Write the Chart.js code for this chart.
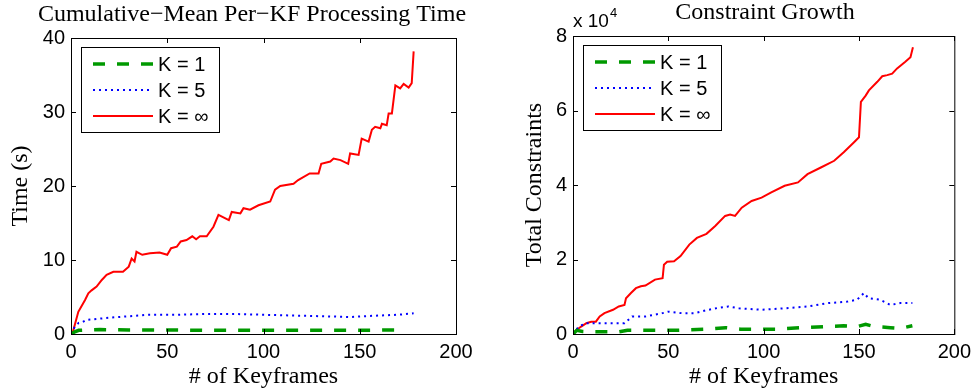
<!DOCTYPE html>
<html>
<head>
<meta charset="utf-8">
<script src="https://cdn.jsdelivr.net/npm/chart.js@4.4.1/dist/chart.umd.min.js"></script>
<style>
  html, body { margin: 0; padding: 0; background: #fff; }
  #wrap { position: relative; width: 977px; height: 391px; }
  .box { position: absolute; top: 0; height: 391px; }
  #leftBox { left: 0; width: 488px; }
  #rightBox { left: 488px; width: 489px; }
</style>
</head>
<body>
<div id="wrap">
  <div class="box" id="leftBox"><canvas id="timeChart"></canvas></div>
  <div class="box" id="rightBox"><canvas id="constraintChart"></canvas></div>
</div>
<script>
// legend labels
const seriesLabels = ['K = 1', 'K = 5', 'K = \u221e'];

// x ticks shared by both plots
const xTicks = [0, 50, 100, 150, 200];

// left plot: per-KF processing time (s)
const timeK1X = [0, 2, 4, 8, 15, 30, 50, 70, 90, 110, 130, 150, 165, 172];
const timeK1Y = [0, 0.3, 0.5, 0.55, 0.6, 0.55, 0.55, 0.5, 0.5, 0.5, 0.5, 0.5, 0.55, 0.55];

const timeK5X = [0, 2, 4, 6, 8, 12, 20, 30, 40, 55, 70, 85, 100, 115, 130, 145, 160, 170, 178];
const timeK5Y = [0, 1, 1.5, 1.6, 1.9, 2.0, 2.2, 2.4, 2.6, 2.6, 2.7, 2.7, 2.6, 2.5, 2.4, 2.3, 2.5, 2.6, 2.8];

const timeKinfX = [0, 1, 3.8, 7.3, 9, 10.7, 13.3, 16, 18.5, 22, 27, 30, 31.5, 33, 34, 37, 41, 46, 50,
  52, 55, 57, 60, 63, 65, 67, 70.5, 74, 76.6, 82, 83.5, 88, 89.6, 93, 97.4, 103.5, 106, 108.7,
  115.6, 118, 124, 128.6, 130, 134.7, 136.4, 140, 144, 145, 149.4, 151, 154.6, 156.3, 158, 160.7,
  161.5, 164, 165, 166.7, 168.5, 171, 172.8, 175.4, 177, 178];
const timeKinfY = [0, 0.3, 3, 4.6, 5.5, 5.9, 6.4, 7.3, 8, 8.4, 8.4, 9.1, 10.2, 9.8, 11.1, 10.7, 10.9, 11, 10.7,
  11.6, 11.8, 12.5, 12.7, 13.2, 12.8, 13.2, 13.2, 14.5, 16.1, 15.4, 16.5, 16.3, 17, 16.8, 17.4, 17.9, 19.5, 20,
  20.3, 20.8, 21.7, 21.7, 23, 23.3, 23.7, 23.5, 23, 24.4, 24.2, 26.4, 26, 27.6, 28, 27.8,
  28.4, 28.2, 29.8, 29.8, 33.6, 33.2, 33.8, 33.3, 33.9, 38.2];

// right plot: total constraints
const consK1X = [0, 2, 5, 10, 24, 28.6, 40, 54, 71, 80, 88, 106, 120, 132, 142, 149, 153.5, 158, 166.5, 171.7, 178];
const consK1Y = [0, 1000, 700, 600, 600, 1000, 1000, 1000, 1300, 1700, 1300, 1300, 1700, 2000, 2200, 2000, 2600, 2000, 1700, 1500, 2200];

const consK5X = [0, 3, 7, 19, 27, 31, 38, 47, 50, 57, 64, 71, 76, 81.5, 87, 99, 111, 123, 134, 144, 149, 152.6, 155, 161, 166.5, 171.7, 178];
const consK5Y = [0, 2000, 2900, 2900, 2900, 4700, 4700, 5600, 6000, 5600, 5600, 6500, 7000, 7400, 6900, 6500, 6900, 7400, 8300, 8700, 9200, 11000, 9600, 9200, 7800, 8300, 8300];

const consKinfX = [0, 1.7, 4.3, 7, 9.5, 12, 14, 16.5, 21, 24, 27, 27.8, 30.4, 33, 35.6, 38, 43, 47, 47.7, 49.4,
  53, 56.4, 61, 65, 70, 74.6, 79.8, 82.4, 85, 88.5, 93.7, 98.9, 104, 111, 118, 123, 130, 137, 142,
  147.4, 150, 151, 153.5, 155.2, 159.6, 162.2, 164.8, 167.4, 170, 174.3, 177, 178.3];
const consKinfY = [0, 1000, 2000, 2900, 3300, 3300, 4700, 5600, 6500, 7400, 7800, 9600, 11000, 12300, 12800, 13000, 14600, 15000, 18600, 19400,
  19500, 20900, 24000, 25800, 26900, 29000, 31700, 32100, 31700, 33900, 35700, 36600, 38000, 39800, 40700, 42900, 44700, 46500, 48800,
  51500, 52800, 62300, 64000, 65400, 67700, 69200, 69500, 69900, 71300, 73100, 74300, 77000];

const colK1 = '#009900';
const colK5 = '#0000ff';
const colKinf = '#ff0000';

const serif = 'Liberation Serif';
const sans = 'Liberation Sans';

Chart.defaults.font.family = sans;
Chart.defaults.color = '#000';
Chart.defaults.animation = false;

function pts(xs, ys) {
    return xs.map((x, i) => ({ x: x, y: ys[i] }));
}

function makeSets(k1x, k1y, k5x, k5y, kix, kiy) {
    return [
        { label: seriesLabels[0], data: pts(k1x, k1y), borderColor: colK1, borderWidth: 3.5, borderDash: [12, 12], pointRadius: 0, tension: 0 },
        { label: seriesLabels[1], data: pts(k5x, k5y), borderColor: colK5, borderWidth: 2, borderDash: [2, 4], pointRadius: 0, tension: 0 },
        { label: seriesLabels[2], data: pts(kix, kiy), borderColor: colKinf, borderWidth: 2, pointRadius: 0, tension: 0 }
    ];
}

// axis box with inward ticks, legend box, title
const framePlugin = {
    id: 'frame',
    afterDraw(chart, args, opts) {
        const ctx = chart.ctx;
        const a = chart.chartArea;
        const xs = chart.scales.x, ys = chart.scales.y;
        ctx.save();
        ctx.strokeStyle = '#000';
        ctx.lineWidth = 1;
        ctx.setLineDash([]);
        ctx.strokeRect(a.left + 0.5, a.top + 0.5, a.right - a.left, a.bottom - a.top);
        const tl = 5;
        ctx.beginPath();
        xs.ticks.forEach(t => {
            const px = Math.round(xs.getPixelForValue(t.value)) + 0.5;
            ctx.moveTo(px, a.bottom); ctx.lineTo(px, a.bottom - tl);
            ctx.moveTo(px, a.top); ctx.lineTo(px, a.top + tl);
        });
        ys.ticks.forEach(t => {
            const py = Math.round(ys.getPixelForValue(t.value)) + 0.5;
            ctx.moveTo(a.left, py); ctx.lineTo(a.left + tl, py);
            ctx.moveTo(a.right, py); ctx.lineTo(a.right - tl, py);
        });
        ctx.stroke();

        // legend
        const lx = a.left + 10, ly = a.top + 9, lw = 138, lh = 85;
        ctx.fillStyle = '#fff';
        ctx.fillRect(lx, ly, lw, lh);
        ctx.strokeRect(lx + 0.5, ly + 0.5, lw, lh);
        const rows = [26, 52, 78];
        ctx.font = '20px ' + sans;
        ctx.textBaseline = 'middle';
        ctx.textAlign = 'left';
        chart.data.datasets.forEach((ds, i) => {
            const y = a.top + rows[i];
            ctx.strokeStyle = ds.borderColor;
            ctx.lineWidth = ds.borderWidth;
            ctx.setLineDash(ds.borderDash || []);
            ctx.beginPath();
            ctx.moveTo(lx + 12, y);
            ctx.lineTo(lx + 72, y);
            ctx.stroke();
            ctx.setLineDash([]);
            ctx.fillStyle = '#000';
            ctx.fillText(ds.label, lx + 77, y + 1);
        });

        // title
        ctx.font = '24px ' + serif;
        ctx.textAlign = 'center';
        ctx.textBaseline = 'alphabetic';
        ctx.fillStyle = '#000';
        ctx.fillText(opts.text, opts.cx, opts.cy);

        if (opts.exponent) {
            ctx.textAlign = 'left';
            ctx.font = '19px ' + sans;
            ctx.fillText('x 10', a.left, 27);
            const w = ctx.measureText('x 10').width;
            ctx.font = '13px ' + sans;
            ctx.fillText('4', a.left + w + 1, 17);
        }
        ctx.restore();
    }
};

function makeOptions(cfg) {
    return {
        responsive: true,
        maintainAspectRatio: false,
        layout: { padding: { top: cfg.top, right: cfg.right, left: 0, bottom: 0 } },
        plugins: {
            legend: { display: false },
            tooltip: { enabled: false },
            frame: { text: cfg.title, cx: cfg.titleX, cy: cfg.titleY, exponent: cfg.exponent }
        },
        scales: {
            x: {
                type: 'linear', min: 0, max: 200,
                afterBuildTicks: s => { s.ticks = xTicks.map(v => ({ value: v })); },
                afterFit: s => { s.height = 57; },
                grid: { display: false, drawTicks: false },
                border: { display: false },
                ticks: { font: { size: 20 }, padding: 6, maxRotation: 0 },
                title: { display: true, text: '# of Keyframes', font: { family: serif, size: 24 }, padding: { top: 0, bottom: 0 } }
            },
            y: {
                type: 'linear', min: 0, max: cfg.yMax,
                afterBuildTicks: s => { s.ticks = cfg.yTicks.map(v => ({ value: v })); },
                afterFit: s => { s.width = cfg.yWidth; },
                grid: { display: false, drawTicks: false },
                border: { display: false },
                ticks: { font: { size: 20 }, padding: 6, callback: cfg.yFmt },
                title: { display: true, text: cfg.yTitle, font: { family: serif, size: 24 }, padding: { top: cfg.yTitlePad, bottom: 0 } }
            }
        }
    };
}

const timeYTicks = [0, 10, 20, 30, 40];
const consYTicks = [0, 20000, 40000, 60000, 80000];

new Chart(document.getElementById('timeChart'), {
    type: 'line',
    data: { datasets: makeSets(timeK1X, timeK1Y, timeK5X, timeK5Y, timeKinfX, timeKinfY) },
    options: makeOptions({
        top: 38, right: 32, yMax: 40, yTicks: timeYTicks, yWidth: 71, yTitlePad: 6,
        yTitle: 'Time (s)', yFmt: v => v, title: 'Cumulative\u2212Mean Per\u2212KF Processing Time', titleX: 252, titleY: 21, exponent: false
    }),
    plugins: [framePlugin]
});

new Chart(document.getElementById('constraintChart'), {
    type: 'line',
    data: { datasets: makeSets(consK1X, consK1Y, consK5X, consK5Y, consKinfX, consKinfY) },
    options: makeOptions({
        top: 36, right: 19, yMax: 80000, yTicks: consYTicks, yWidth: 85, yTitlePad: 32,
        yTitle: 'Total Constraints', yFmt: v => v / 10000, title: 'Constraint Growth', titleX: 277, titleY: 19, exponent: true
    }),
    plugins: [framePlugin]
});
</script>
</body>
</html>
